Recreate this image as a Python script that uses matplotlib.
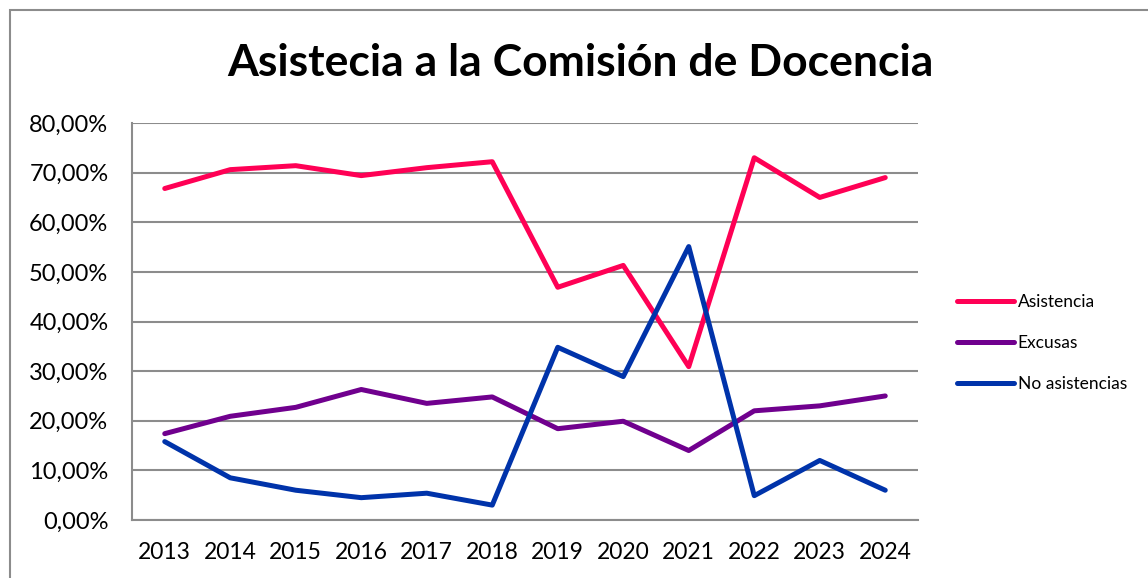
import matplotlib
matplotlib.use("Agg")
import matplotlib.pyplot as plt
from matplotlib.patches import Rectangle
from matplotlib.lines import Line2D

years = ["2013", "2014", "2015", "2016", "2017", "2018", "2019", "2020", "2021", "2022", "2023", "2024"]
asistencia = [66.8, 70.6, 71.4, 69.4, 71.0, 72.2, 46.9, 51.3, 30.9, 73.0, 65.0, 69.0]
excusas = [17.4, 20.9, 22.7, 26.3, 23.5, 24.8, 18.4, 19.9, 14.0, 22.0, 23.0, 25.0]
no_asistencias = [15.8, 8.5, 6.0, 4.5, 5.4, 3.0, 34.8, 28.9, 55.1, 4.9, 12.0, 6.0]
series_names = ["Asistencia", "Excusas", "No asistencias"]
colors = ["#FF0055", "#70008E", "#0033AA"]
yticks = [0, 10, 20, 30, 40, 50, 60, 70, 80]

plt.rcParams['font.family'] = ['Lato', 'DejaVu Sans']

W, H = 1148, 578
fig = plt.figure(figsize=(W / 100, H / 100), dpi=100)
fig.patch.set_facecolor("white")

# outer chart border
fig.patches.append(Rectangle((10 / W, -0.05), 1.2, 1 - 10 / H + 0.05, transform=fig.transFigure,
                             fill=False, edgecolor="#8C8C8C", linewidth=1.5))

left, right, top, bottom = 132, 918, 123, 520
ax = fig.add_axes([left / W, 1 - bottom / H, (right - left) / W, (bottom - top) / H])

x = list(range(len(years)))
for vals, name, c in zip([asistencia, excusas, no_asistencias], series_names, colors):
    ax.plot(x, vals, color=c, linewidth=3.6, solid_capstyle="round", solid_joinstyle="round",
            label=name, zorder=3)

ax.set_xlim(-0.5, len(years) - 0.5)
ax.set_ylim(0, 80)
ax.set_yticks(yticks)
ax.set_yticklabels([f"{v:.2f}%".replace(".", ",") for v in yticks], fontsize=17)
ax.set_xticks(x)
ax.set_xticklabels(years, fontsize=16.5)
ax.tick_params(axis='y', length=0, pad=17)
ax.tick_params(axis='x', length=0, pad=16)
ax.grid(axis="y", color="#8C8C8C", linewidth=1.5, zorder=1)
for s in ["top", "right"]:
    ax.spines[s].set_visible(False)
for s in ["left", "bottom"]:
    ax.spines[s].set_color("#8C8C8C")
    ax.spines[s].set_linewidth(1.5)

fig.text(580 / W, 1 - 63 / H, "Asistecia a la Comisión de Docencia", ha="center", va="center",
         fontsize=32, fontweight="bold")

handles = [Line2D([0], [0], color=c, linewidth=3.6, solid_capstyle="round") for c in colors]
leg = fig.legend(handles, series_names, loc="upper left", bbox_to_anchor=(950 / W, 1 - 287 / H),
                 frameon=False, fontsize=12.5, handlelength=3.3, handletextpad=0.2, labelspacing=1.45,
                 borderaxespad=0)

fig.savefig("out.png", dpi=100)
